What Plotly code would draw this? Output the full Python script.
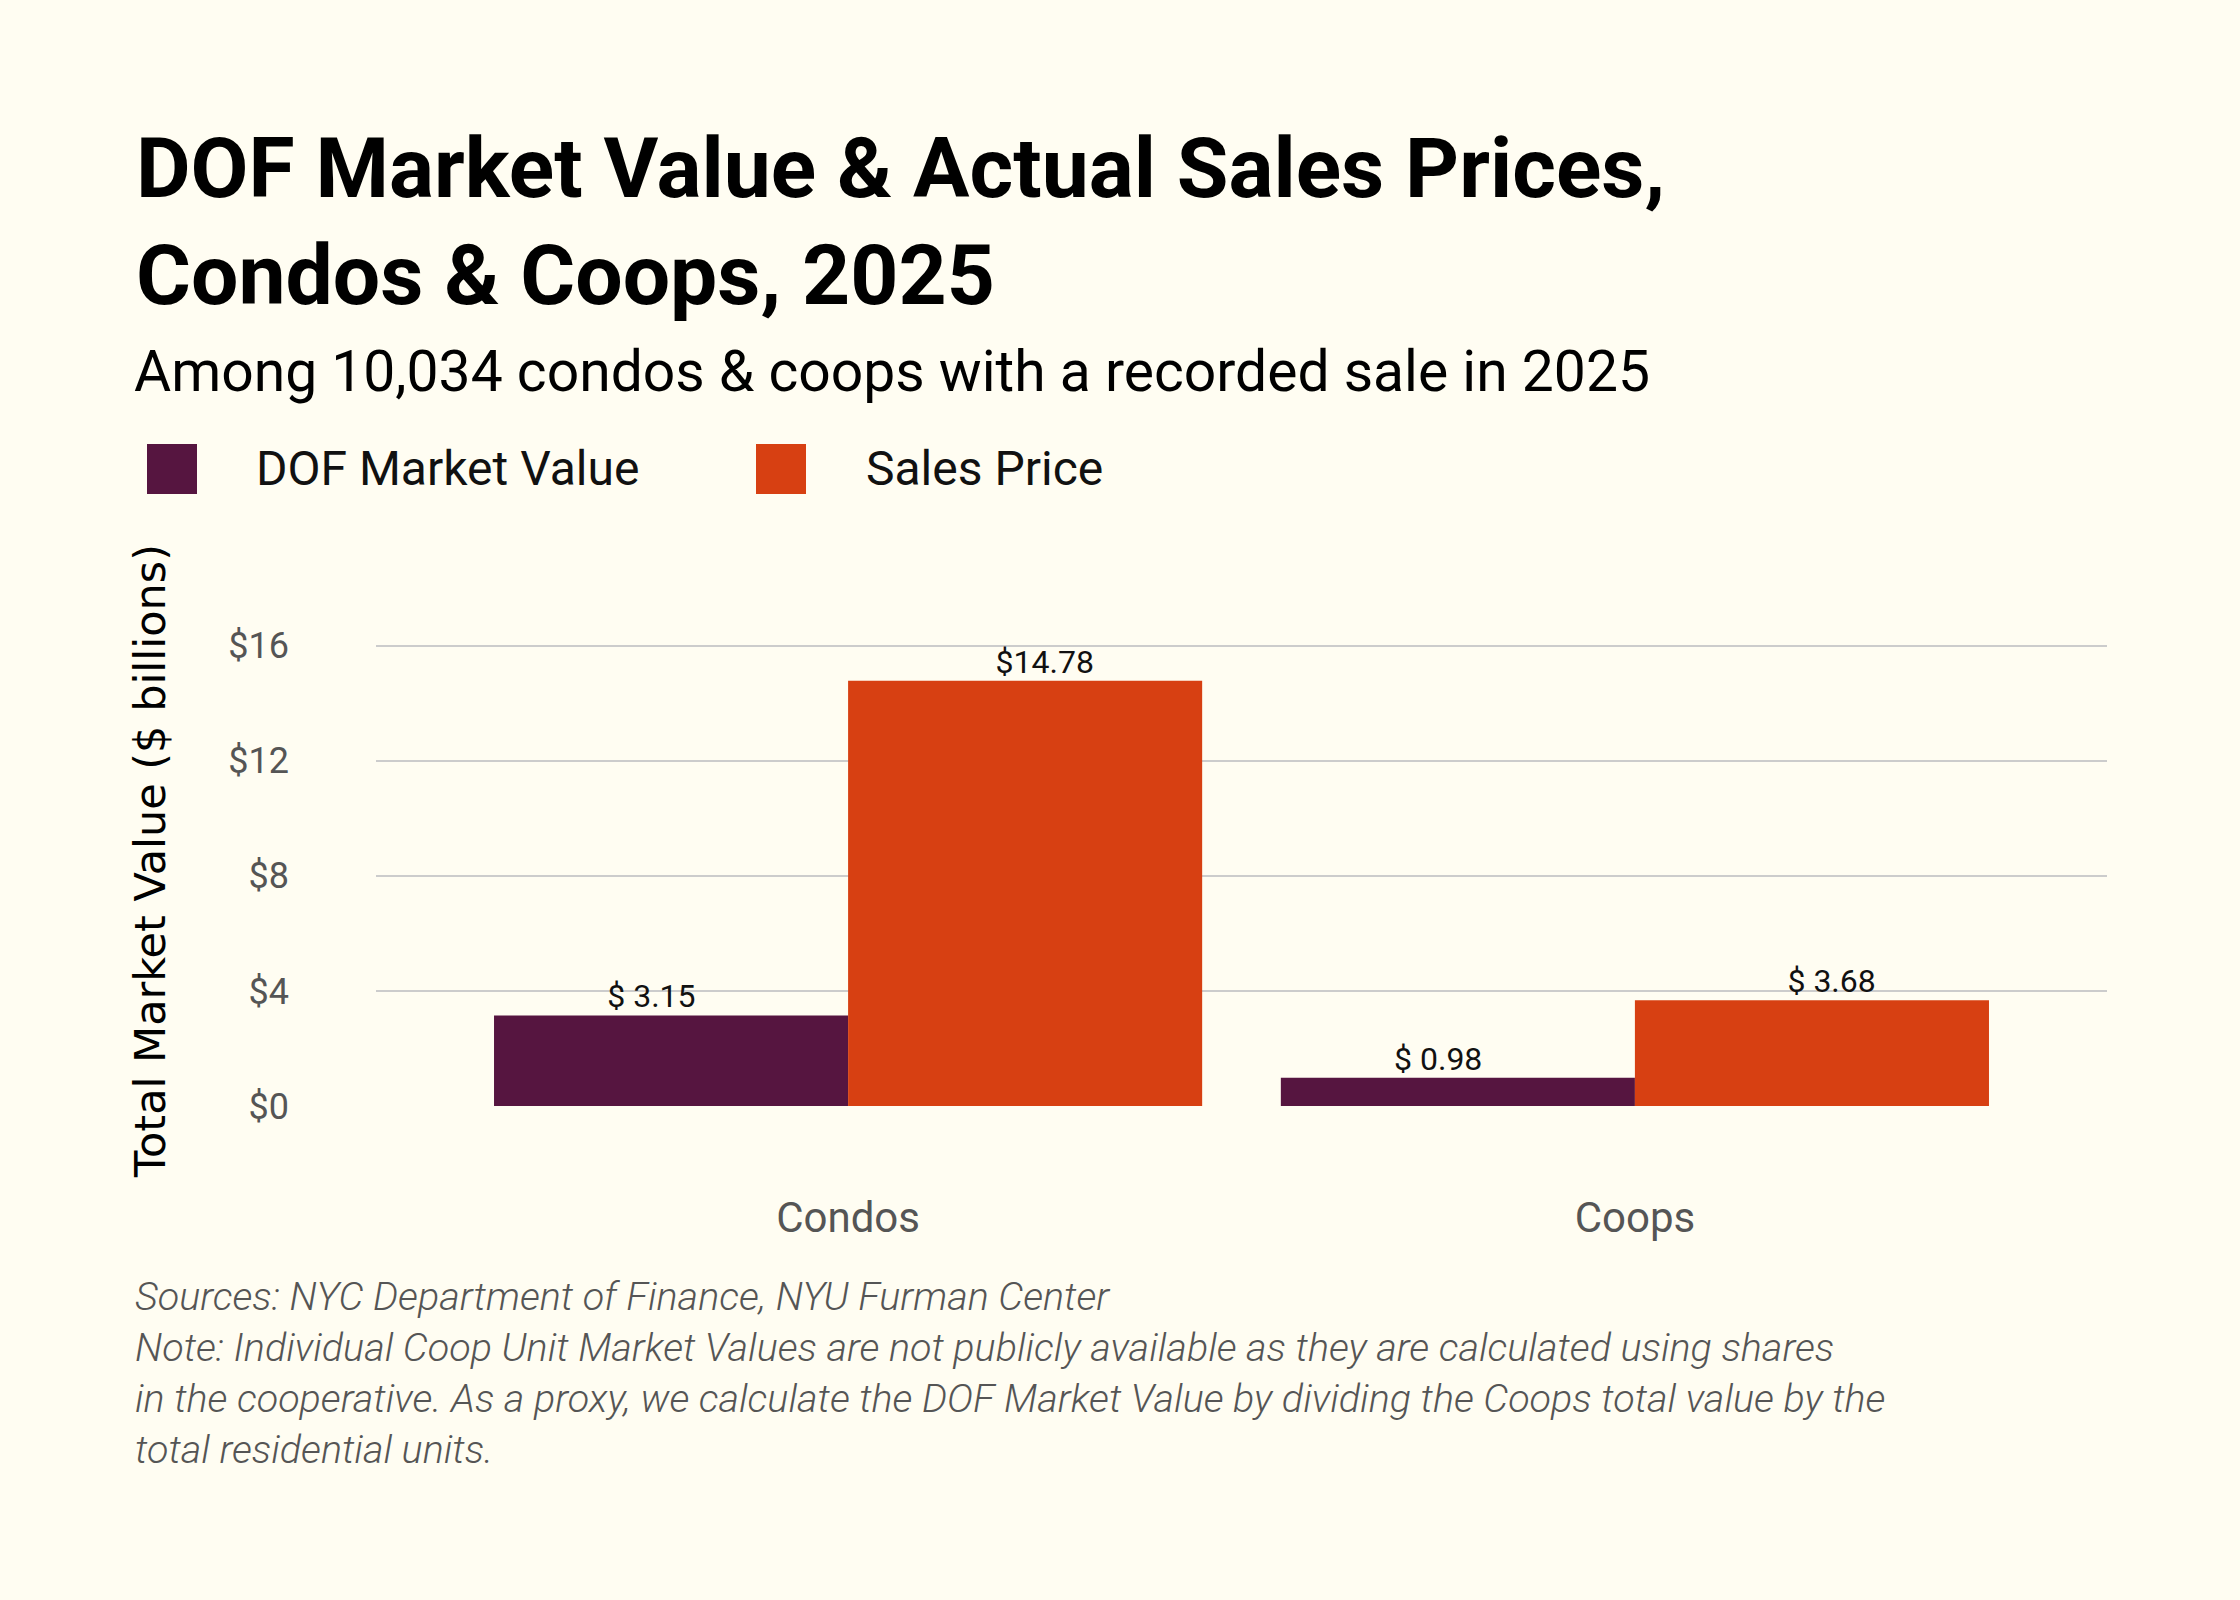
import plotly.graph_objects as go

# data
categories = ["Condos", "Coops"]
series_names = ["DOF Market Value", "Sales Price"]
dof_values = [3.15, 0.98]
sales_values = [14.78, 3.68]
dof_labels = ["$ 3.15", "$ 0.98"]
sales_labels = ["$14.78", "$ 3.68"]
y_tickvals = [0, 4, 8, 12, 16]
y_ticktext = ["$0", "$4", "$8", "$12", "$16"]

colors = ["#561540", "#D74012"]
bg = "#FFFDF2"

W, H = 2240, 1600
ml, mr, mt, mb = 376, 133, 617, 494
pw = W - ml - mr
ph = H - mt - mb


def px(x):  # pixel -> paper x
    return (x - ml) / pw


def py(y):  # pixel -> paper y
    return (H - mb - y) / ph


xpos = list(range(len(categories)))
label_shift = [-0.25, 0.25]  # value labels sit a bit off the bar centres

fig = go.Figure()
series = [(series_names[0], dof_values, dof_labels, colors[0]),
          (series_names[1], sales_values, sales_labels, colors[1])]
for name, vals, labels, col in series:
    fig.add_trace(go.Bar(
        x=xpos, y=vals, name=name, marker_color=col,
        marker_line_width=0, showlegend=False,
    ))
for (name, vals, labels, col), sh in zip(series, label_shift):
    fig.add_trace(go.Scatter(
        x=[p + sh for p in xpos], y=vals, mode="text", text=labels,
        textposition="top center", cliponaxis=False, hoverinfo="skip",
        textfont=dict(family="Roboto", size=32, color="#111"),
        showlegend=False,
    ))

fig.update_layout(
    width=W, height=H,
    paper_bgcolor=bg, plot_bgcolor=bg,
    margin=dict(l=ml, r=mr, t=mt, b=mb),
    barmode="group", bargap=0.1, bargroupgap=0,
    xaxis=dict(
        range=[-0.6, 1.6], showgrid=False, zeroline=False,
        tickvals=xpos, ticktext=categories,
        ticklabelstandoff=83,
        tickfont=dict(family="Roboto", size=42, color="#555"),
    ),
    yaxis=dict(
        range=[0, 17], tickvals=y_tickvals, ticktext=y_ticktext,
        showgrid=True, gridcolor="#cccccc", gridwidth=2, zeroline=False,
        ticklabelstandoff=86,
        tickfont=dict(family="Roboto", size=36, color="#555"),
    ),
)

ann = []
ann.append(dict(text="<b>DOF Market Value & Actual Sales Prices,</b>", x=px(134), y=py(117),
                xanchor="left", yanchor="top", font=dict(family="Roboto", size=84, color="#000")))
ann.append(dict(text="<b>Condos & Coops, 2025</b>", x=px(134), y=py(224),
                xanchor="left", yanchor="top", font=dict(family="Roboto", size=84, color="#000")))
ann.append(dict(text="Among 10,034 condos & coops with a recorded sale in 2025", x=px(132), y=py(336),
                xanchor="left", yanchor="top", font=dict(family="Roboto", size=57, color="#000")))
ann.append(dict(text="Total Market Value ($ billions)", x=px(150), y=py(861), textangle=-90,
                xanchor="center", yanchor="middle", font=dict(family="DejaVu Sans", size=43, color="#000")))

foot = ["Sources: NYC Department of Finance, NYU Furman Center",
        "Note: Individual Coop Unit Market Values are not publicly available as they are calculated using shares",
        "in the cooperative. As a proxy, we calculate the DOF Market Value by dividing the Coops total value by the",
        "total residential units."]
for i, line in enumerate(foot):
    ann.append(dict(text="<i>" + line + "</i>", x=px(133), y=py(1296 + i * 51),
                    xanchor="left", yanchor="middle",
                    font=dict(family="Roboto", size=39.5, color="#555", weight=300)))

# legend drawn by hand (plotly caps legend symbol size)
shapes = []
leg_sq = [147, 756]
leg_tx = [254, 864]
for i in range(2):
    shapes.append(dict(type="rect", xref="paper", yref="paper",
                       x0=px(leg_sq[i]), x1=px(leg_sq[i] + 50), y0=py(444), y1=py(494),
                       fillcolor=colors[i], line_width=0))
    ann.append(dict(text=series_names[i], x=px(leg_tx[i]), y=py(469), xanchor="left", yanchor="middle",
                    font=dict(family="Roboto", size=48, color="#111")))

for a in ann:
    a.update(xref="paper", yref="paper", showarrow=False)
fig.update_layout(annotations=ann, shapes=shapes)

fig.write_html("out.html", config={"displayModeBar": False},
               post_script="document.body.style.margin='0';")
